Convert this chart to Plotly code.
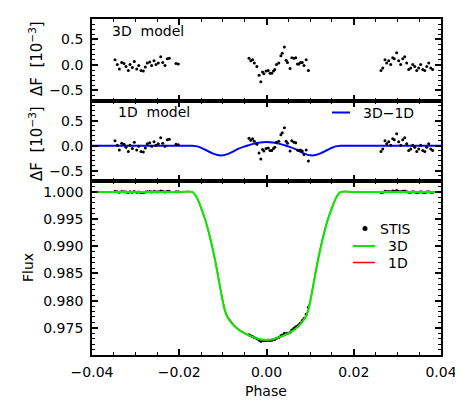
import plotly.graph_objects as go
from plotly.subplots import make_subplots

# ---------------- data ----------------
# STIS residuals (units of 1e-3), 3D model panel
stis_phase = [
    -0.03473, -0.03420, -0.03374, -0.03319, -0.03266, -0.03220, -0.03168, -0.03129,
    -0.03076, -0.03030, -0.02975, -0.02929, -0.02877, -0.02824, -0.02778, -0.02732,
    -0.02677, -0.02632, -0.02579, -0.02533, -0.02480, -0.02425, -0.02379, -0.02327,
    -0.02274, -0.02228, -0.02074, -0.02022,
    -0.0040, -0.0036, -0.0032, -0.0028, -0.0022, -0.0017, -0.0013, -0.0009, -0.0006,
    -0.0001, 0.0004, 0.0008, 0.0012, 0.0016, 0.0019, 0.0023, 0.0028, 0.0033, 0.0036,
    0.0041, 0.0045, 0.0048, 0.0054, 0.0058, 0.0063, 0.0067, 0.0071, 0.0074, 0.0078,
    0.0082, 0.0086, 0.0091, 0.0096,
    0.02625, 0.02664, 0.02716, 0.02755, 0.02801, 0.02847, 0.02893, 0.02929, 0.02984,
    0.03030, 0.03076, 0.03122, 0.03168, 0.03214, 0.03260, 0.03306, 0.03352, 0.03398,
    0.03444, 0.03490, 0.03535, 0.03581, 0.03627, 0.03673, 0.03719, 0.03765, 0.03810,
]
resid_3d = [
    0.10, 0.01, -0.08, 0.05, 0.03, -0.03, -0.11, 0.01, -0.05, 0.07, -0.08, -0.01,
    -0.11, -0.12, -0.04, 0.04, 0.06, -0.01, 0.08, 0.01, 0.04, 0.16, 0.05, -0.01,
    0.12, 0.13, 0.03, 0.02,
    0.13, 0.08, 0.10, 0.04, -0.03, -0.20, -0.33, -0.14, -0.17, -0.12, -0.11, -0.16,
    -0.16, -0.12, -0.09, 0.01, 0.04, 0.18, 0.23, 0.35, 0.09, 0.05, -0.07, 0.14, 0.13,
    0.14, 0.02, 0.02, 0.05, 0.05, -0.01, 0.10, -0.11,
    -0.11, -0.06, 0.10, 0.04, 0.08, 0.01, 0.14, 0.12, 0.24, 0.08, 0.01, 0.12, 0.16,
    0.04, -0.09, -0.06, 0.01, -0.03, -0.11, -0.06, 0.01, -0.09, -0.11, -0.03, 0.04,
    -0.06, -0.09,
]
resid_1d = [
    0.10, 0.01, -0.08, 0.05, 0.03, -0.03, -0.11, 0.01, -0.05, 0.07, -0.08, -0.01,
    -0.11, -0.12, -0.04, 0.04, 0.06, -0.01, 0.08, 0.01, 0.04, 0.16, 0.05, -0.01,
    0.12, 0.13, 0.03, 0.02,
    0.15, 0.11, 0.14, 0.09, 0.03, -0.14, -0.26, -0.07, -0.10, -0.05, -0.04, -0.09,
    -0.09, -0.05, -0.03, 0.07, 0.09, 0.22, 0.26, 0.36, 0.09, 0.05, -0.10, 0.10, 0.07,
    0.06, -0.08, -0.09, -0.08, -0.10, -0.17, -0.08, -0.30,
    -0.11, -0.06, 0.10, 0.04, 0.08, 0.01, 0.14, 0.12, 0.24, 0.08, 0.01, 0.12, 0.16,
    0.04, -0.09, -0.06, 0.01, -0.03, -0.11, -0.06, 0.01, -0.09, -0.11, -0.03, 0.04,
    -0.06, -0.09,
]
stis_flux = [
    1.00010, 1.00001, 0.99992, 1.00005, 1.00003, 0.99997, 0.99989, 1.00001, 0.99995,
    1.00007, 0.99992, 0.99999, 0.99989, 0.99988, 0.99996, 1.00004, 1.00006, 0.99999,
    1.00008, 1.00001, 1.00004, 1.00016, 1.00005, 0.99999, 1.00012, 1.00013, 1.00003,
    1.00002,
    0.97373, 0.97353, 0.97341, 0.97323, 0.97301, 0.97274, 0.97255, 0.97270, 0.97265,
    0.97268, 0.97270, 0.97267, 0.97271, 0.97281, 0.97289, 0.97307, 0.97323, 0.97352,
    0.97368, 0.97399, 0.97390, 0.97400, 0.97419, 0.97462, 0.97491, 0.97518, 0.97534,
    0.97556, 0.97588, 0.97634, 0.97673, 0.97750, 0.97880,
    0.99989, 0.99994, 1.00010, 1.00004, 1.00008, 1.00001, 1.00014, 1.00012, 1.00024,
    1.00008, 1.00001, 1.00012, 1.00016, 1.00004, 0.99991, 0.99994, 1.00001, 0.99997,
    0.99989, 0.99994, 1.00001, 0.99991, 0.99989, 0.99997, 1.00004, 0.99994, 0.99991,
]

# Model light curves
model_phase = [
    -0.040, -0.030, -0.020, -0.0170, -0.0163, -0.0155, -0.0148, -0.0141, -0.0133,
    -0.0126, -0.0119, -0.0112, -0.0106, -0.0100, -0.0095, -0.0090, -0.0083, -0.0076,
    -0.0065, -0.0053, -0.0040, -0.0030, -0.0015, 0.0,
    0.0015, 0.0030, 0.0040, 0.0053, 0.0065, 0.0076, 0.0083, 0.0090, 0.0095, 0.0100,
    0.0106, 0.0112, 0.0119, 0.0126, 0.0133, 0.0141, 0.0148, 0.0155, 0.0163, 0.0170,
    0.020, 0.030, 0.040,
]
flux_3d = [
    1.0000, 1.0000, 1.0000, 1.0000, 0.9994, 0.9981, 0.9966, 0.9950, 0.9927,
    0.9904, 0.9878, 0.9849, 0.9822, 0.9797, 0.9780, 0.9770, 0.9762, 0.9755,
    0.9747, 0.9741, 0.9736, 0.9733, 0.9729, 0.9728,
    0.9729, 0.9733, 0.9736, 0.9741, 0.9747, 0.9755, 0.9762, 0.9770, 0.9780, 0.9797,
    0.9822, 0.9849, 0.9878, 0.9904, 0.9927, 0.9950, 0.9966, 0.9981, 0.9994, 1.0000,
    1.0000, 1.0000, 1.0000,
]
flux_1d = [
    1.0000, 1.0000, 1.0000, 1.0000, 0.99941, 0.99812, 0.99664, 0.99507, 0.99280,
    0.99053, 0.98796, 0.98508, 0.98239, 0.97989, 0.97819, 0.97717, 0.97635, 0.97562,
    0.97478, 0.97414, 0.97359, 0.97326, 0.97284, 0.97273,
    0.97284, 0.97326, 0.97359, 0.97414, 0.97478, 0.97562, 0.97635, 0.97717, 0.97819,
    0.97989, 0.98239, 0.98508, 0.98796, 0.99053, 0.99280, 0.99507, 0.99664, 0.99812,
    0.99941, 1.0000, 1.0000, 1.0000, 1.0000,
]
diff_3d_1d = [
    0.0, 0.0, 0.0, 0.0, -0.005, -0.02, -0.045, -0.075, -0.11,
    -0.14, -0.165, -0.183, -0.19, -0.188, -0.18, -0.165, -0.14, -0.11,
    -0.06, -0.02, 0.015, 0.04, 0.065, 0.075,
    0.065, 0.04, 0.015, -0.02, -0.06, -0.11, -0.14, -0.165, -0.18, -0.188,
    -0.19, -0.183, -0.165, -0.14, -0.11, -0.075, -0.045, -0.02, -0.005, 0.0,
    0.0, 0.0, 0.0,
]

x_ticks = [-0.04, -0.02, 0.00, 0.02, 0.04]
resid_ticks = [-0.5, 0.0, 0.5]
flux_ticks = [0.975, 0.980, 0.985, 0.990, 0.995, 1.000]

# ---------------- figure ----------------
# page body has an 8px margin, so the figure is placed at (8, 8) in the window
OFF = 8
W, H = 463 - OFF, 405 - OFF
PL, PR, PT, PB = 92, 441, 19, 355          # plot-area edges in window pixels
ML, MT = PL - OFF, PT - OFF
MR, MB = W - (PR - OFF), H - (PB - OFF)
PW, PH = PR - PL, PB - PT

def px_x(p):
    return (p - PL) / PW

def px_y(p):
    return (PB - p) / PH

fig = make_subplots(rows=3, cols=1, shared_xaxes=True, vertical_spacing=0,
                    row_heights=[81.7, 80.3, 174.0])

FONT = "DejaVu Sans"
dot = dict(color="black", size=3)

fig.add_trace(go.Scatter(x=stis_phase, y=resid_3d, mode="markers", marker=dot,
                         showlegend=False), row=1, col=1)
fig.add_trace(go.Scatter(x=model_phase, y=diff_3d_1d, mode="lines",
                         line=dict(color="#0000ff", width=2, shape="spline", smoothing=0.8),
                         showlegend=False), row=2, col=1)
fig.add_trace(go.Scatter(x=stis_phase, y=resid_1d, mode="markers", marker=dot,
                         showlegend=False), row=2, col=1)
fig.add_trace(go.Scatter(x=stis_phase, y=stis_flux, mode="markers", marker=dot,
                         showlegend=False), row=3, col=1)
fig.add_trace(go.Scatter(x=model_phase, y=flux_1d, mode="lines",
                         line=dict(color="#ff0000", width=1.5, shape="spline", smoothing=0.6),
                         showlegend=False), row=3, col=1)
fig.add_trace(go.Scatter(x=model_phase, y=flux_3d, mode="lines",
                         line=dict(color="#00ee00", width=2, shape="spline", smoothing=0.6),
                         showlegend=False), row=3, col=1)

axis_common = dict(showline=True, linecolor="black", linewidth=1.8, mirror="allticks",
                   ticks="inside", tickcolor="black", ticklen=6, tickwidth=1.5,
                   showgrid=False, zeroline=False, automargin=False,
                   tickfont=dict(family=FONT, size=14, color="black"))

for r in (1, 2, 3):
    fig.update_xaxes(range=[-0.04, 0.04], tickvals=x_ticks, tickformat=".2f",
                     minor=dict(ticks="inside", ticklen=3, dtick=0.005, tick0=-0.04,
                                tickcolor="black", tickwidth=1.2),
                     showticklabels=(r == 3), ticklabelstandoff=3,
                     row=r, col=1, **axis_common)
for r in (1, 2):
    fig.update_yaxes(range=[-0.7, 0.9], tickvals=resid_ticks, tickformat=".1f",
                     minor=dict(ticks="inside", ticklen=3, dtick=0.1, tick0=0,
                                tickcolor="black", tickwidth=1.2),
                     ticklabelstandoff=4, row=r, col=1, **axis_common)
fig.update_yaxes(range=[0.970, 1.002], tickvals=flux_ticks, tickformat=".3f",
                 minor=dict(ticks="inside", ticklen=3, dtick=0.001, tick0=0.970,
                            tickcolor="black", tickwidth=1.2),
                 ticklabelstandoff=4, row=3, col=1, **axis_common)

tf = dict(family=FONT, size=14, color="black")
tf_title = dict(family=FONT, size=15, color="black")
ann = [
    dict(text="3D  model", x=px_x(110), y=px_y(31), xanchor="left", yanchor="middle"),
    dict(text="1D  model", x=px_x(116), y=px_y(112), xanchor="left", yanchor="middle"),
    dict(text="3D\u22121D", x=px_x(361), y=px_y(112.5), xanchor="left", yanchor="middle"),
    dict(text="STIS", x=px_x(378), y=px_y(228.5), xanchor="left", yanchor="middle"),
    dict(text="3D", x=px_x(386), y=px_y(246), xanchor="left", yanchor="middle"),
    dict(text="1D", x=px_x(386), y=px_y(262.5), xanchor="left", yanchor="middle"),
    dict(text="\u0394F  [10<sup>\u22123</sup>]", x=px_x(36), y=px_y(58), textangle=-90,
         xanchor="center", yanchor="middle", font=tf_title),
    dict(text="\u0394F  [10<sup>\u22123</sup>]", x=px_x(36), y=px_y(143), textangle=-90,
         xanchor="center", yanchor="middle", font=tf_title),
    dict(text="Flux", x=px_x(28), y=px_y(268), textangle=-90,
         xanchor="center", yanchor="middle"),
    dict(text="Phase", x=px_x(266), y=px_y(391), xanchor="center", yanchor="middle"),
]
for a in ann:
    a.setdefault("font", tf)
    a.update(xref="paper", yref="paper", showarrow=False)
fig.update_layout(annotations=ann)

shapes = [
    dict(type="line", x0=px_x(332), x1=px_x(350), y0=px_y(112.5), y1=px_y(112.5),
         line=dict(color="#0000ff", width=2)),
    dict(type="circle", x0=px_x(362.5), x1=px_x(367.5), y0=px_y(231), y1=px_y(226),
         fillcolor="black", line=dict(color="black", width=0)),
    dict(type="line", x0=px_x(353), x1=px_x(375), y0=px_y(246), y1=px_y(246),
         line=dict(color="#00ee00", width=2)),
    dict(type="line", x0=px_x(353), x1=px_x(375), y0=px_y(262.5), y1=px_y(262.5),
         line=dict(color="#ff0000", width=1.5)),
]
for s in shapes:
    s.update(xref="paper", yref="paper")
fig.update_layout(shapes=shapes)

fig.update_layout(width=W, height=H, margin=dict(l=ML, r=MR, t=MT, b=MB),
                  paper_bgcolor="white", plot_bgcolor="white", showlegend=False,
                  font=dict(family=FONT, size=14, color="black"))

fig.write_html("out.html")
